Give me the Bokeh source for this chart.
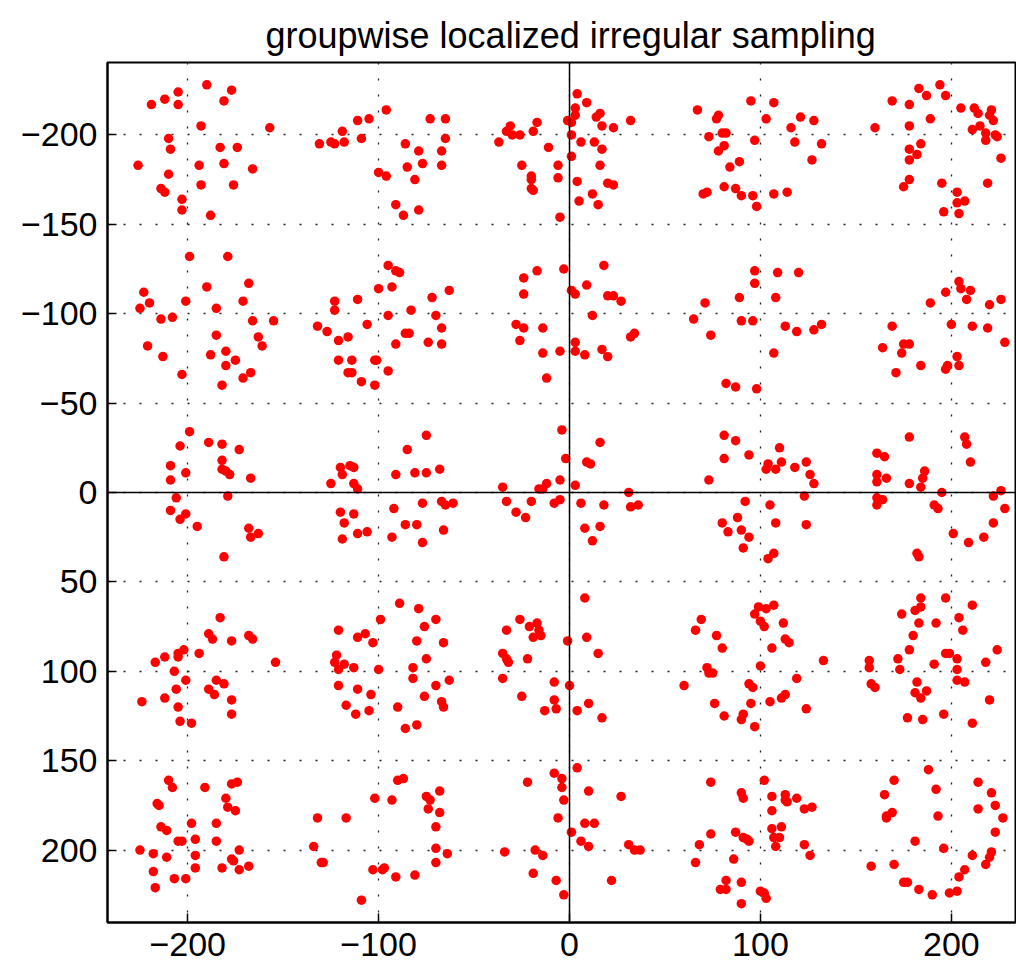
from bokeh.plotting import figure
from bokeh.models import Range1d, Span, FixedTicker, ColumnDataSource
from bokeh.embed import file_html
from bokeh.resources import INLINE

title_text = "groupwise localized irregular sampling"
x_ticks = [-200, -100, 0, 100, 200]
x_tick_labels = ["\u2212200", "\u2212100", "0", "100", "200"]
y_ticks = [-200, -150, -100, -50, 0, 50, 100, 150, 200]
y_tick_labels = ["\u2212200", "\u2212150", "\u2212100", "\u221250", "0", "50", "100", "150", "200"]

# sample groups (x, y), row by row (y = -200 ... 200), column by column (x = -200 ... 200)
g_r1_c1 = [(-219,-217),(-212,-220),(-205,-224),(-205,-217),(-190,-228),(-177,-225),(-181,-219),(-193,-205),(-157,-204),(-210,-198),(-209,-192),(-183,-193),(-174,-193),(-226,-183),(-194,-183),(-181,-184),(-166,-181),(-210,-178),(-214,-170),(-212,-168),(-193,-172),(-176,-172),(-203,-164),(-203,-158),(-188,-155)]
g_r1_c2 = [(-131,-195),(-125,-196),(-123,-195),(-118,-196),(-119,-202),(-111,-208),(-105,-209),(-109,-198),(-96,-214),(-73,-209),(-65,-209),(-65,-198),(-86,-195),(-79,-191),(-67,-191),(-85,-182),(-77,-184),(-67,-183),(-100,-179),(-96,-177),(-81,-175),(-91,-161),(-87,-155),(-79,-158)]
g_r1_c3 = [(-37,-196),(-31,-205),(-33,-202),(-30,-200),(-26,-200),(-19,-202),(-17,-207),(-11,-193),(-25,-183),(-20,-177),(-20,-175),(-20,-170),(-19,-169),(-6,-183),(-6,-176),(-5,-154),(-1,-208),(1,-207),(1,-188),(4,-223),(3,-215),(3,-211),(1,-200),(9,-218),(14,-210),(16,-212),(17,-205),(23,-204),(32,-208),(6,-196),(13,-196),(17,-192),(16,-183),(4,-174),(20,-173),(23,-172),(12,-167),(5,-163),(15,-161)]
g_r1_c4 = [(67,-214),(77,-209),(78,-211),(73,-199),(80,-201),(82,-201),(81,-194),(78,-191),(89,-185),(84,-182),(95,-219),(107,-218),(103,-209),(97,-197),(116,-204),(121,-210),(128,-208),(118,-196),(132,-195),(127,-186),(70,-167),(72,-168),(81,-171),(87,-170),(90,-166),(96,-166),(98,-160),(107,-167),(114,-168)]
g_r1_c5 = [(160,-204),(169,-219),(178,-217),(183,-226),(187,-222),(194,-228),(197,-222),(189,-209),(178,-205),(205,-215),(212,-215),(214,-212),(220,-211),(221,-214),(222,-208),(215,-205),(211,-203),(218,-201),(218,-197),(223,-200),(224,-199),(226,-187),(184,-195),(178,-192),(182,-189),(178,-186),(178,-175),(175,-171),(195,-173),(203,-168),(203,-162),(207,-163),(196,-157),(204,-156),(219,-173)]

g_r2_c1 = [(-223,-112),(-225,-103),(-220,-106),(-214,-97),(-208,-98),(-199,-132),(-201,-107),(-190,-115),(-185,-103),(-179,-132),(-168,-117),(-171,-107),(-166,-96),(-155,-96),(-163,-87),(-161,-82),(-185,-88),(-221,-82),(-213,-76),(-203,-66),(-188,-77),(-180,-79),(-175,-74),(-180,-71),(-167,-67),(-171,-64),(-182,-60)]
g_r2_c2 = [(-123,-107),(-123,-102),(-111,-108),(-132,-93),(-127,-90),(-121,-85),(-116,-87),(-106,-94),(-121,-74),(-114,-74),(-116,-67),(-114,-67),(-109,-62),(-102,-74),(-101,-74),(-102,-60),(-95,-68),(-100,-114),(-95,-127),(-91,-124),(-89,-123),(-93,-115),(-95,-99),(-83,-102),(-72,-109),(-63,-113),(-70,-99),(-67,-92),(-86,-89),(-84,-89),(-91,-83),(-74,-84),(-67,-83)]
g_r2_c3 = [(-24,-120),(-17,-124),(-3,-125),(-24,-111),(-28,-94),(-24,-92),(-14,-92),(-26,-85),(-14,-78),(-5,-79),(-12,-64),(1,-113),(3,-111),(9,-116),(18,-127),(20,-110),(23,-110),(27,-107),(12,-99),(32,-87),(34,-89),(3,-84),(3,-79),(8,-77),(17,-80),(20,-76)]
g_r2_c4 = [(65,-97),(71,-106),(74,-88),(89,-109),(90,-96),(96,-96),(97,-124),(97,-117),(108,-109),(109,-123),(120,-123),(113,-93),(119,-90),(128,-91),(132,-94),(107,-78),(82,-61),(87,-59),(98,-58)]
g_r2_c5 = [(169,-93),(164,-81),(174,-78),(175,-83),(178,-83),(171,-67),(184,-71),(189,-106),(197,-112),(204,-118),(205,-114),(210,-113),(208,-108),(220,-105),(226,-108),(200,-94),(211,-93),(219,-92),(228,-84),(203,-76),(204,-71),(198,-71),(197,-69)]

g_r3_c1 = [(-199,-34),(-204,-26),(-209,-15),(-209,-7),(-201,-11),(-189,-28),(-182,-27),(-182,-18),(-182,-13),(-180,-12),(-178,-10),(-173,-24),(-167,-8),(-206,3),(-179,2),(-209,10),(-204,15),(-201,12),(-195,19),(-168,20),(-167,25),(-163,23),(-181,36)]
g_r3_c2 = [(-125,-5),(-120,-14),(-119,-10),(-115,-15),(-113,-14),(-113,-5),(-111,-2),(-120,11),(-113,12),(-118,17),(-119,26),(-111,23),(-106,22),(-91,-10),(-85,-24),(-81,-11),(-75,-32),(-75,-11),(-68,-13),(-92,9),(-77,6),(-67,5),(-65,7),(-61,6),(-86,18),(-80,18),(-93,25),(-77,28),(-66,21)]
g_r3_c3 = [(-35,-3),(-33,5),(-28,11),(-23,14),(-20,5),(-16,-2),(-14,-2),(-12,-5),(-5,-7),(-4,-35),(-2,-19),(-8,6),(-5,4),(3,-4),(9,-17),(11,-16),(16,-28),(6,6),(18,7),(31,0),(32,8),(36,7),(8,20),(16,19),(12,27)]
g_r3_c4 = [(73,-7),(81,-32),(87,-29),(81,-19),(94,-21),(104,-16),(103,-13),(108,-13),(110,-25),(111,-17),(118,-14),(124,-17),(126,-10),(128,-5),(123,2),(92,5),(105,7),(108,17),(124,18),(80,17),(83,22),(88,14),(90,21),(94,25),(91,31),(107,34),(104,37)]
g_r3_c5 = [(161,-22),(165,-20),(161,-10),(161,-6),(166,-8),(161,3),(164,4),(161,7),(178,-31),(178,-5),(184,-3),(185,-8),(186,-12),(195,0),(191,7),(193,9),(207,-31),(208,-27),(210,-17),(222,2),(226,-1),(228,9),(222,17),(217,25),(209,28),(201,23),(182,34),(183,36)]

g_r4_c1 = [(-217,95),(-212,92),(-205,90),(-205,92),(-202,88),(-194,90),(-189,79),(-187,82),(-183,70),(-177,83),(-168,80),(-166,82),(-154,95),(-207,100),(-201,105),(-206,110),(-189,110),(-185,105),(-186,113),(-181,107),(-177,116),(-177,124),(-224,117),(-212,115),(-205,120),(-204,128),(-198,129)]
g_r4_c2 = [(-121,77),(-122,91),(-123,95),(-118,96),(-121,99),(-113,98),(-111,81),(-107,79),(-103,84),(-99,71),(-89,62),(-79,65),(-76,75),(-70,71),(-80,83),(-66,84),(-75,93),(-82,98),(-100,99),(-82,104),(-70,108),(-63,105),(-121,108),(-111,110),(-104,113),(-76,114),(-67,117),(-66,120),(-117,119),(-112,124),(-105,122),(-90,120),(-86,132),(-80,130)]
g_r4_c3 = [(-33,77),(-26,71),(-21,75),(-17,73),(-16,77),(-19,81),(-15,80),(-35,90),(-33,93),(-32,95),(-22,93),(-35,104),(-25,114),(-8,106),(-8,116),(-13,122),(-7,121),(-1,83),(0,108),(8,59),(9,81),(15,90),(10,118),(4,122),(17,126)]
g_r4_c4 = [(60,108),(66,77),(69,71),(77,80),(80,87),(72,98),(73,101),(75,101),(97,68),(99,64),(103,65),(107,63),(100,72),(102,75),(112,73),(113,82),(115,84),(106,87),(100,97),(119,104),(94,107),(96,109),(95,118),(105,117),(111,115),(113,113),(124,121),(76,118),(81,125),(91,124),(90,127),(97,131),(133,94)]
g_r4_c5 = [(157,94),(157,98),(158,107),(160,109),(172,93),(173,99),(174,68),(180,80),(178,88),(181,66),(184,64),(184,59),(183,73),(192,73),(197,59),(204,70),(206,77),(211,63),(191,96),(197,90),(199,90),(203,93),(203,99),(203,105),(207,106),(218,95),(224,88),(182,106),(181,112),(184,115),(187,111),(177,126),(185,127),(196,124),(211,129),(220,116)]

g_r5_c1 = [(-210,161),(-208,165),(-216,174),(-215,175),(-214,187),(-211,189),(-205,195),(-203,195),(-225,200),(-218,202),(-211,204),(-218,212),(-217,221),(-207,216),(-201,216),(-198,185),(-196,194),(-196,203),(-196,210),(-191,165),(-185,185),(-185,195),(-180,171),(-179,176),(-177,163),(-174,162),(-175,178),(-173,200),(-177,205),(-176,206),(-182,210),(-173,211),(-168,209)]
g_r5_c2 = [(-134,198),(-132,182),(-130,207),(-129,207),(-117,182),(-109,228),(-103,211),(-102,171),(-98,211),(-97,210),(-93,172),(-90,161),(-87,160),(-91,215),(-81,214),(-75,170),(-73,172),(-68,167),(-74,177),(-68,179),(-70,187),(-70,199),(-64,202),(-70,207)]
g_r5_c3 = [(-34,201),(-22,162),(-18,200),(-14,203),(-19,213),(-8,157),(-4,160),(-4,165),(-3,172),(-6,182),(-7,217),(-3,225),(1,190),(4,154),(10,167),(8,185),(13,185),(6,195),(10,198),(27,170),(31,197),(34,200),(37,200),(22,217)]
g_r5_c4 = [(74,162),(74,191),(68,197),(66,207),(86,205),(87,190),(91,193),(93,194),(94,195),(90,168),(91,171),(82,217),(79,222),(82,222),(90,218),(90,230),(100,223),(102,224),(103,227),(102,161),(106,170),(106,178),(113,169),(113,172),(114,173),(119,171),(123,177),(127,176),(106,188),(111,187),(107,193),(110,193),(108,198),(123,197),(126,203)]
g_r5_c5 = [(158,209),(165,169),(166,181),(166,182),(169,179),(170,161),(170,208),(181,195),(175,218),(177,218),(183,222),(188,155),(192,166),(193,181),(196,199),(190,225),(199,224),(203,223),(204,215),(207,211),(211,203),(214,162),(214,177),(221,168),(223,175),(227,182),(223,190),(221,201),(220,204),(218,208)]

groups = [g_r1_c1, g_r1_c2, g_r1_c3, g_r1_c4, g_r1_c5,
          g_r2_c1, g_r2_c2, g_r2_c3, g_r2_c4, g_r2_c5,
          g_r3_c1, g_r3_c2, g_r3_c3, g_r3_c4, g_r3_c5,
          g_r4_c1, g_r4_c2, g_r4_c3, g_r4_c4, g_r4_c5,
          g_r5_c1, g_r5_c2, g_r5_c3, g_r5_c4, g_r5_c5]

xs = [pt[0] for g in groups for pt in g]
ys = [pt[1] for g in groups for pt in g]
src = ColumnDataSource(data=dict(x=xs, y=ys))

FONT = "Liberation Sans"

p = figure(width=1016, height=972,
           x_range=Range1d(-242, 233.6), y_range=Range1d(240.5, -240.5),
           output_backend="svg", toolbar_location=None,
           min_border_left=107, min_border_right=1, min_border_top=62, min_border_bottom=50,
           title=title_text)
p.title.align = "left"
p.title.offset = 158
p.title.standoff = 12
p.title.vertical_align = "middle"
p.title.text_font = FONT
p.title.text_font_size = "36px"
p.title.text_font_style = "normal"
p.title.text_color = "black"

p.background_fill_color = "white"
p.border_fill_color = "white"
p.outline_line_color = "black"
p.outline_line_width = 2

for ax, ticks, labels in ((p.xaxis[0], x_ticks, x_tick_labels), (p.yaxis[0], y_ticks, y_tick_labels)):
    ax.ticker = FixedTicker(ticks=ticks)
    ax.major_label_overrides = {t: l for t, l in zip(ticks, labels)}
    ax.major_label_text_font = FONT
    ax.major_label_text_font_size = "34px"
    ax.major_label_text_color = "black"
    ax.axis_line_color = "black"
    ax.axis_line_width = 2
    ax.major_tick_in = 9
    ax.major_tick_out = 0
    ax.major_tick_line_color = "black"
    ax.major_tick_line_width = 1.5
    ax.minor_tick_line_color = None
p.xaxis.major_label_standoff = 10
p.yaxis.major_label_standoff = 10

p.xgrid.ticker = FixedTicker(ticks=x_ticks)
p.ygrid.ticker = FixedTicker(ticks=y_ticks)
for g in (p.xgrid, p.ygrid):
    g.grid_line_color = "#222222"
    g.grid_line_width = 1.3
    g.grid_line_dash = "2 14"

p.add_layout(Span(location=0, dimension="height", line_color="black", line_width=1.5))
p.add_layout(Span(location=0, dimension="width", line_color="black", line_width=1.5))

p.scatter("x", "y", source=src, size=9.5, marker="circle", fill_color="#ff0000", line_color=None)

open("out.html", "w").write(file_html(p, INLINE))
